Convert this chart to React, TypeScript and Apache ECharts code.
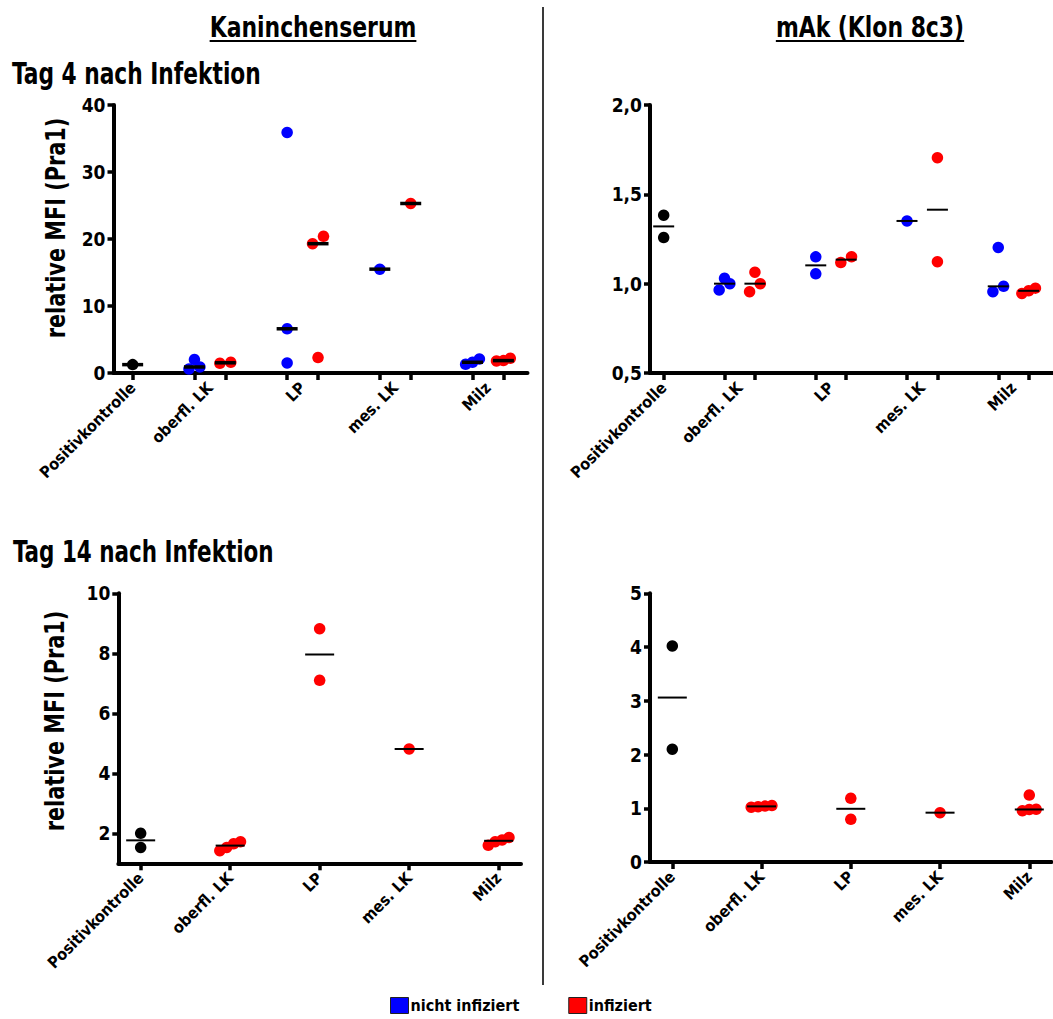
import React, { useEffect, useRef } from "react";
import * as echarts from "echarts";

// ---------- data ----------
const categories = ["Positivkontrolle", "oberfl. LK", "LP", "mes. LK", "Milz"];

// Tag 4 nach Infektion – Kaninchenserum (relative MFI)
const t4SerumControl = [1.25];
const t4SerumNotInfected = [[2.0, 0.9, 0.6], [35.9, 6.6, 1.5], [15.5], [2.1, 1.6, 1.3]];
const t4SerumInfected = [[1.45, 1.6], [20.4, 19.3, 2.3], [25.3], [2.2, 1.85, 1.8]];
const t4SerumTicks = [0, 10, 20, 30, 40];

// Tag 4 nach Infektion – mAk (Klon 8c3)
const t4MabControl = [1.383, 1.258];
const t4MabNotInfected = [[1.03, 1.0, 0.965], [1.15, 1.055], [1.351], [1.203, 0.985, 0.955]];
const t4MabInfected = [[1.064, 1.0, 0.955], [1.118, 1.151], [1.705, 1.123], [0.975, 0.96, 0.945]];
const t4MabTicks = [0.5, 1.0, 1.5, 2.0];

// Tag 14 nach Infektion – Kaninchenserum
const t14SerumControl = [1.53, 2.0];
const t14SerumInfected = [[1.65, 1.42, 1.53, 1.72], [8.82, 7.1], [4.81], [1.78, 1.6, 1.72, 1.86]];
const t14SerumTicks = [2, 4, 6, 8, 10];

// Tag 14 nach Infektion – mAk (Klon 8c3)
const t14MabControl = [4.02, 2.1];
const t14MabInfected = [[1.04, 1.02, 1.03, 1.05], [1.185, 0.795], [0.918], [0.98, 0.955, 0.975, 1.245]];
const t14MabTicks = [0, 1, 2, 3, 4, 5];

const legendNames = ["nicht infiziert", "infiziert"];

// ---------- styling / layout ----------
const FONT = "'Liberation Sans Narrow', 'Arial Narrow', 'DejaVu Sans Condensed', sans-serif";
const BLUE = "#0000ff";
const RED = "#ff0000";
const BLACK = "#000000";
const DOT = 11.5;

type Panel = {
  grid: { left: number; top: number; width: number; height: number };
  xMin: number;
  xMax: number;
  yMin: number;
  yMax: number;
  yTicks: number[];
  yFmt: (v: number) => string;
  control: number[];
  notInfected?: number[][];
  infected: number[][];
  medianSize: [number, number];
};

const median = (a: number[]) => {
  const s = [...a].sort((x, y) => x - y);
  const n = s.length;
  return n % 2 ? s[(n - 1) / 2] : (s[n / 2 - 1] + s[n / 2]) / 2;
};

// spread points of one column horizontally when they overlap (like a scatter dot plot)
function swarm(values: number[], center: number, pxX: number, pxY: number): number[][] {
  const out = values.map((v) => [center, v]);
  const order = values.map((_, i) => i).sort((a, b) => values[a] - values[b]);
  const groups: number[][] = [];
  let cur: number[] = [];
  let start = -Infinity;
  for (const i of order) {
    const py = values[i] * pxY;
    if (cur.length && py - start < DOT * 0.8) cur.push(i);
    else {
      if (cur.length) groups.push(cur);
      cur = [i];
      start = py;
    }
  }
  if (cur.length) groups.push(cur);
  for (const g of groups) {
    const n = g.length;
    const sp = n <= 2 ? DOT * 0.95 : DOT * 0.6;
    g.forEach((i, k) => {
      out[i][0] = center + ((k - (n - 1) / 2) * sp) / pxX;
    });
  }
  return out;
}

const comma = (v: number) => v.toFixed(1).replace(".", ",");

const panels: Panel[] = [
  {
    grid: { left: 113.5, top: 105, width: 414, height: 268 },
    xMin: -0.62, xMax: 12.78, yMin: 0, yMax: 40, yTicks: t4SerumTicks, yFmt: (v) => String(v),
    control: t4SerumControl, notInfected: t4SerumNotInfected, infected: t4SerumInfected,
    medianSize: [21, 3.5],
  },
  {
    grid: { left: 650, top: 105, width: 411, height: 268 },
    xMin: -0.45, xMax: 12.8, yMin: 0.5, yMax: 2.0, yTicks: t4MabTicks, yFmt: comma,
    control: t4MabControl, notInfected: t4MabNotInfected, infected: t4MabInfected,
    medianSize: [21, 2],
  },
  {
    grid: { left: 118.3, top: 593.3, width: 402.7, height: 270 },
    xMin: -0.25, xMax: 4.25, yMin: 1, yMax: 10, yTicks: t14SerumTicks, yFmt: (v) => String(v),
    control: t14SerumControl, infected: t14SerumInfected,
    medianSize: [29, 2],
  },
  {
    grid: { left: 650, top: 593.3, width: 401.6, height: 268.7 },
    xMin: -0.25, xMax: 4.25, yMin: 0, yMax: 5, yTicks: t14MabTicks, yFmt: (v) => String(v),
    control: t14MabControl, infected: t14MabInfected,
    medianSize: [29, 2],
  },
];

function buildOption() {
  const grids: any[] = [];
  const xAxes: any[] = [];
  const yAxes: any[] = [];
  const series: any[] = [];

  panels.forEach((p, pi) => {
    grids.push({ ...p.grid, containLabel: false });
    const two = !!p.notInfected;
    const niPos = p.notInfected ? p.notInfected.map((_, i) => 2 + 3 * i) : [];
    const infPos = p.infected.map((_, i) => (two ? 3 + 3 * i : 1 + i));
    const labelPos = [0, ...p.infected.map((_, i) => (two ? 2.5 + 3 * i : 1 + i))];
    const tickPos = [0, ...niPos, ...infPos].sort((a, b) => a - b);
    const pxX = p.grid.width / (p.xMax - p.xMin);
    const pxY = p.grid.height / (p.yMax - p.yMin);

    xAxes.push({
      gridIndex: pi,
      type: "value",
      min: p.xMin,
      max: p.xMax,
      splitLine: { show: false },
      axisLine: { show: true, onZero: false, lineStyle: { color: BLACK, width: 4 } },
      axisTick: { show: true, inside: false, length: 7, customValues: tickPos, lineStyle: { color: BLACK, width: 3.5 } },
      axisLabel: {
        show: true,
        customValues: labelPos,
        formatter: (v: number) => {
          const idx = labelPos.findIndex((l) => Math.abs(l - v) < 1e-6);
          return idx >= 0 ? categories[idx] : "";
        },
        rotate: 45,
        margin: 12,
        fontFamily: FONT,
        fontWeight: "bold",
        fontSize: 16,
        color: BLACK,
      },
    });
    yAxes.push({
      gridIndex: pi,
      type: "value",
      min: p.yMin,
      max: p.yMax,
      splitLine: { show: false },
      axisLine: { show: true, onZero: false, lineStyle: { color: BLACK, width: 4 } },
      axisTick: { show: true, inside: false, length: 6, customValues: p.yTicks, lineStyle: { color: BLACK, width: 3.5 } },
      axisLabel: {
        show: true,
        customValues: p.yTicks,
        formatter: (v: number) => p.yFmt(v),
        margin: 8,
        fontFamily: FONT,
        fontWeight: "bold",
        fontSize: 19,
        color: BLACK,
      },
    });

    const dots: any[] = [];
    const medians: number[][] = [];
    const add = (name: string, color: string, groups: number[][], pos: number[]) => {
      const data: number[][] = [];
      groups.forEach((g, i) => {
        data.push(...swarm(g, pos[i], pxX, pxY));
        medians.push([pos[i], median(g)]);
      });
      dots.push({
        type: "scatter",
        name,
        xAxisIndex: pi,
        yAxisIndex: pi,
        data,
        symbol: "circle",
        symbolSize: DOT,
        itemStyle: { color, opacity: 1 },
        z: 2,
        silent: true,
      });
    };
    add("Positivkontrolle", BLACK, [p.control], [0]);
    if (p.notInfected) add(legendNames[0], BLUE, p.notInfected, niPos);
    add(legendNames[1], RED, p.infected, infPos);
    series.push(...dots);
    series.push({
      type: "scatter",
      name: "Median",
      xAxisIndex: pi,
      yAxisIndex: pi,
      data: medians,
      symbol: "rect",
      symbolSize: p.medianSize,
      itemStyle: { color: BLACK, opacity: 1 },
      z: 3,
      silent: true,
    });
  });

  const measure = (text: string, font: string) => {
    const c = document.createElement("canvas").getContext("2d")!;
    c.font = font;
    return c.measureText(text).width;
  };
  const titleFont = `bold 28px ${FONT}`;
  const titleScale = 0.87;
  const titles = [
    { text: "Kaninchenserum", cx: 313, y: 27 },
    { text: "mAk (Klon 8c3)", cx: 870, y: 27 },
  ];
  const graphic: any[] = [];
  titles.forEach((t) => {
    const w = measure(t.text, titleFont) * titleScale;
    graphic.push({
      type: "text",
      x: t.cx,
      y: t.y,
      scaleX: titleScale,
      style: { text: t.text, font: titleFont, fill: BLACK, textAlign: "center", textVerticalAlign: "middle" },
    });
    graphic.push({
      type: "line",
      shape: { x1: t.cx - w / 2, y1: t.y + 14, x2: t.cx + w / 2, y2: t.y + 14 },
      style: { stroke: BLACK, lineWidth: 2 },
    });
  });
  const rowFont = `bold 31px ${FONT}`;
  graphic.push({
    type: "text", x: 12, y: 73, scaleX: 0.78,
    style: { text: "Tag 4 nach Infektion", font: rowFont, fill: BLACK, textAlign: "left", textVerticalAlign: "middle" },
  });
  graphic.push({
    type: "text", x: 13, y: 551, scaleX: 0.77,
    style: { text: "Tag 14 nach Infektion", font: rowFont, fill: BLACK, textAlign: "left", textVerticalAlign: "middle" },
  });
  const yTitleFont = `bold 26px ${FONT}`;
  [
    { x: 56, y: 228 },
    { x: 55, y: 721 },
  ].forEach((pt) =>
    graphic.push({
      type: "text",
      x: pt.x,
      y: pt.y,
      rotation: Math.PI / 2,
      scaleX: 0.89,
      style: { text: "relative MFI (Pra1)", font: yTitleFont, fill: BLACK, textAlign: "center", textVerticalAlign: "middle" },
    })
  );
  graphic.push({
    type: "line",
    shape: { x1: 543, y1: 7, x2: 543, y2: 985 },
    style: { stroke: "#3a3a3a", lineWidth: 2 },
  });

  return {
    animation: false,
    backgroundColor: "#ffffff",
    grid: grids,
    xAxis: xAxes,
    yAxis: yAxes,
    series,
    legend: {
      data: legendNames,
      left: 390,
      top: 997,
      padding: 0,
      icon: "rect",
      itemWidth: 18,
      itemHeight: 16,
      itemGap: 49,
      selectedMode: false,
      itemStyle: { borderColor: "#222", borderWidth: 1 },
      textStyle: { fontFamily: FONT, fontWeight: "bold", fontSize: 16, color: BLACK, padding: [0, 0, 0, -3] },
    },
    graphic,
  };
}

export default function App() {
  const ref = useRef<HTMLDivElement>(null);
  useEffect(() => {
    const chart = echarts.init(ref.current!, null, { renderer: "svg" });
    chart.setOption(buildOption() as any);
    return () => chart.dispose();
  }, []);
  return (
    <div
      ref={ref}
      style={{ position: "fixed", left: 0, top: 0, width: 1053, height: 1019, background: "#fff" }}
    />
  );
}
